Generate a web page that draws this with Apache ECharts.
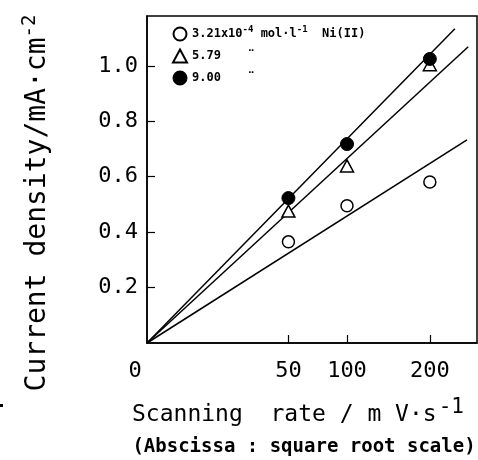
<!DOCTYPE html>
<html>
<head>
<meta charset="utf-8">
<script src="https://cdn.jsdelivr.net/npm/echarts@6/dist/echarts.min.js"></script>
<style>html,body{margin:0;padding:0;background:#fff;}#c{width:478px;height:460px;}</style>
</head>
<body>
<div id="c"></div>
<script>
// ---- data ----
var rates = [50, 100, 200];                 // mV/s
var valsLow = [0.365, 0.495, 0.581];        // 3.21e-4 mol/l (open circles)
var valsMid = [0.476, 0.639, 1.004];        // 5.79 (triangles)
var valsHigh = [0.523, 0.718, 1.025];       // 9.00 (filled circles)
var fitEndRate = [256, 258, 237];           // fitted lines through origin: end rate
var fitEndVal = [0.733, 1.069, 1.134];      // fitted lines: end current density
var xTickRates = [0, 50, 100, 200];
var yTicks = [0.2, 0.4, 0.6, 0.8, 1.0];
var seriesNames = ['low', 'mid', 'high'];

var MONO = '"DejaVu Sans Mono", monospace';
function pts(vals) { return rates.map(function (r, i) { return [Math.sqrt(r), vals[i]]; }); }
function fit(i) { return [[0, 0], [Math.sqrt(fitEndRate[i]), fitEndVal[i]]]; }

var chart = echarts.init(document.getElementById('c'));
var sup = { fontFamily: MONO, fontSize: 9, fontWeight: 'bold', color: '#000', padding: [0, 0, 9, 0] };
var legendText = {
  low: '{t|3.21x10}{s|-4}{t| mol·l}{s|-1}{t|  Ni(II)}',
  mid: '{t|5.79}{d|¨}',
  high: '{t|9.00}{d|¨}'
};
chart.setOption({
  animation: false,
  grid: { left: 147, top: 16, width: 330, height: 327, show: true, borderColor: '#000', borderWidth: 1.5, containLabel: false },
  xAxis: {
    type: 'value', min: 0, max: 16.5,
    axisLine: { lineStyle: { color: '#000', width: 1.5 } },
    splitLine: { show: false },
    axisTick: { inside: true, length: 8, lineStyle: { color: '#000', width: 1.2 },
      customValues: xTickRates.slice(1).map(Math.sqrt) },
    axisLabel: {
      customValues: xTickRates.map(Math.sqrt), margin: 17,
      fontFamily: MONO, fontSize: 22, color: '#000',
      formatter: function (v) { var r = Math.round(v * v); return r === 0 ? '{z|0}' : String(r); },
      rich: { z: { fontFamily: MONO, fontSize: 22, color: '#000', padding: [0, 24, 0, 0] } }
    }
  },
  yAxis: {
    type: 'value', min: 0, max: 1.18, interval: 0.2,
    axisLine: { lineStyle: { color: '#000', width: 1.5 } },
    splitLine: { show: false },
    axisTick: { inside: true, length: 8, lineStyle: { color: '#000', width: 1.2 }, customValues: yTicks },
    axisLabel: { customValues: yTicks, margin: 9, fontFamily: MONO, fontSize: 22, color: '#000',
      formatter: function (v) { return v.toFixed(1); } }
  },
  legend: {
    data: seriesNames, orient: 'vertical', left: 167, top: 20, itemWidth: 14, itemHeight: 13, itemGap: 7,
    selectedMode: false,
    formatter: function (n) { return legendText[n]; },
    textStyle: {
      fontFamily: MONO, fontSize: 12, fontWeight: 'bold', color: '#000', lineHeight: 13,
      rich: {
        t: { fontFamily: MONO, fontSize: 12, fontWeight: 'bold', color: '#000' },
        s: sup,
        d: { fontFamily: MONO, fontSize: 14, fontWeight: 'bold', color: '#000', padding: [0, 0, 0, 26] }
      }
    }
  },
  series: [
    { type: 'line', data: fit(0), symbol: 'none', lineStyle: { color: '#000', width: 1.5 }, z: 1 },
    { type: 'line', data: fit(1), symbol: 'none', lineStyle: { color: '#000', width: 1.5 }, z: 1 },
    { type: 'line', data: fit(2), symbol: 'none', lineStyle: { color: '#000', width: 1.5 }, z: 1 },
    { name: 'low', type: 'scatter', data: pts(valsLow), symbol: 'circle', symbolSize: 12,
      itemStyle: { color: '#fff', borderColor: '#000', borderWidth: 1.5, opacity: 1 }, z: 3 },
    { name: 'mid', type: 'scatter', data: pts(valsMid), symbol: 'triangle', symbolSize: [13, 12],
      itemStyle: { color: '#fff', borderColor: '#000', borderWidth: 1.5, opacity: 1 }, z: 3 },
    { name: 'high', type: 'scatter', data: pts(valsHigh), symbol: 'circle', symbolSize: 13,
      itemStyle: { color: '#000', borderColor: '#000', borderWidth: 1, opacity: 1 }, z: 4 }
  ],
  graphic: [
    { type: 'text', x: 38, y: 203, rotation: Math.PI / 2,
      style: { text: '{m|Current density/mA·cm}{s|-2}', align: 'center', verticalAlign: 'middle',
        rich: { m: { fontFamily: MONO, fontSize: 28, color: '#000' },
                s: { fontFamily: MONO, fontSize: 19, color: '#000', padding: [0, 0, 15, 0] } } } },
    { type: 'text', x: 132, y: 415,
      style: { text: '{m|Scanning  rate / m V·s}{s|-1}', align: 'left', verticalAlign: 'middle',
        rich: { m: { fontFamily: MONO, fontSize: 23, color: '#000' },
                s: { fontFamily: MONO, fontSize: 21, color: '#000', padding: [0, 0, 14, 2] } } } },
    { type: 'text', x: 304, y: 447,
      style: { text: '(Abscissa : square root scale)', align: 'center', verticalAlign: 'middle',
        font: 'bold 19px "DejaVu Sans Mono", monospace', fill: '#000' } },
    { type: 'rect', shape: { x: 0, y: 404, width: 3, height: 3 }, style: { fill: '#000' } }
  ]
});
</script>
</body>
</html>
